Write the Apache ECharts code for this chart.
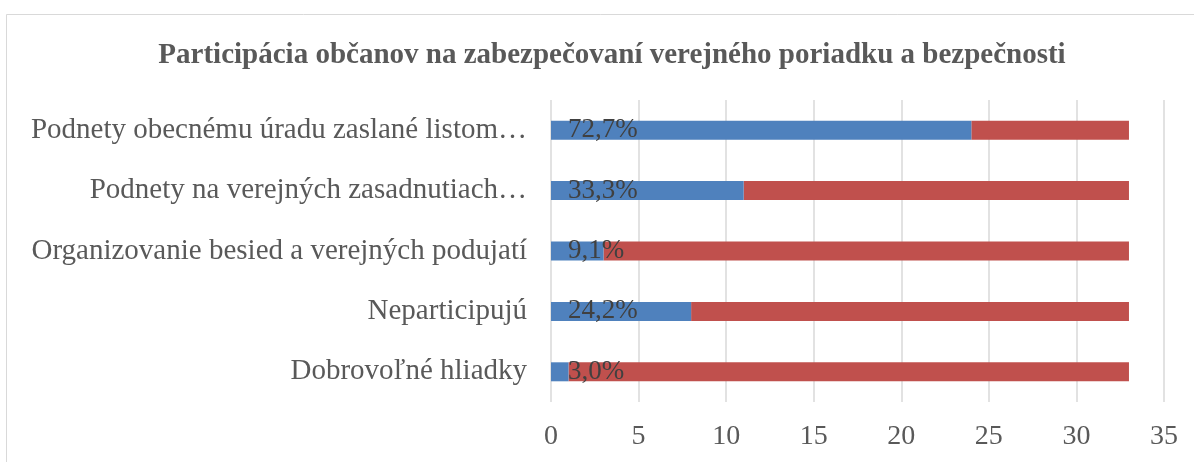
<!DOCTYPE html>
<html><head><meta charset="utf-8">
<script src="https://cdn.jsdelivr.net/npm/echarts@6/dist/echarts.min.js"></script>
<style>html,body{margin:0;padding:0;background:#fff}#c{width:1194px;height:462px}</style>
</head><body><div id="c"></div>
<script>
const categories = ["Dobrovoľné hliadky","Neparticipujú","Organizovanie besied a verejných podujatí","Podnety na verejných zasadnutiach…","Podnety obecnému úradu zaslané listom…"];
const blueValues = [1, 8, 3, 11, 24];
const redValues = [32, 25, 30, 22, 9];
const percentLabels = ["3,0%","24,2%","9,1%","33,3%","72,7%"];
const xTicks = [0,5,10,15,20,25,30,35];
const FONT = '"Liberation Serif","Times New Roman",serif';
const chart = echarts.init(document.getElementById('c'), null, {renderer:'canvas'});
chart.setOption({
  animation:false,
  backgroundColor:'#fff',
  title:{text:'Participácia občanov na zabezpečovaní verejného poriadku a bezpečnosti',left:607,textAlign:'center',top:36,
    textStyle:{fontFamily:FONT,fontSize:29,fontWeight:'bold',color:'#595959'}},
  graphic:[{type:'rect',shape:{x:6.5,y:14.5,width:1300,height:600},style:{fill:'none',stroke:'#d9d9d9',lineWidth:1},silent:true}],
  grid:{left:551,right:30,top:100,bottom:60,containLabel:false},
  xAxis:{type:'value',min:xTicks[0],max:xTicks[xTicks.length-1],interval:5,
    axisLine:{show:false},axisTick:{show:false},
    splitLine:{lineStyle:{color:'#d9d9d9',width:1.5}},
    axisLabel:{fontFamily:FONT,fontSize:28,color:'#595959',margin:21}},
  yAxis:{type:'category',data:categories,axisLine:{show:false},axisTick:{show:false},
    axisLabel:{fontFamily:FONT,fontSize:29,color:'#595959',margin:24}},
  series:[
    {type:'bar',stack:'a',data:blueValues,barWidth:19,itemStyle:{color:'#4F81BD'},
     label:{show:true,position:'insideLeft',distance:17,formatter:p=>percentLabels[p.dataIndex],
       fontFamily:FONT,fontSize:27,color:'#404040'},z:3},
    {type:'bar',stack:'a',data:redValues,barWidth:19,itemStyle:{color:'#C0504D'},z:2}
  ]
});
</script></body></html>
